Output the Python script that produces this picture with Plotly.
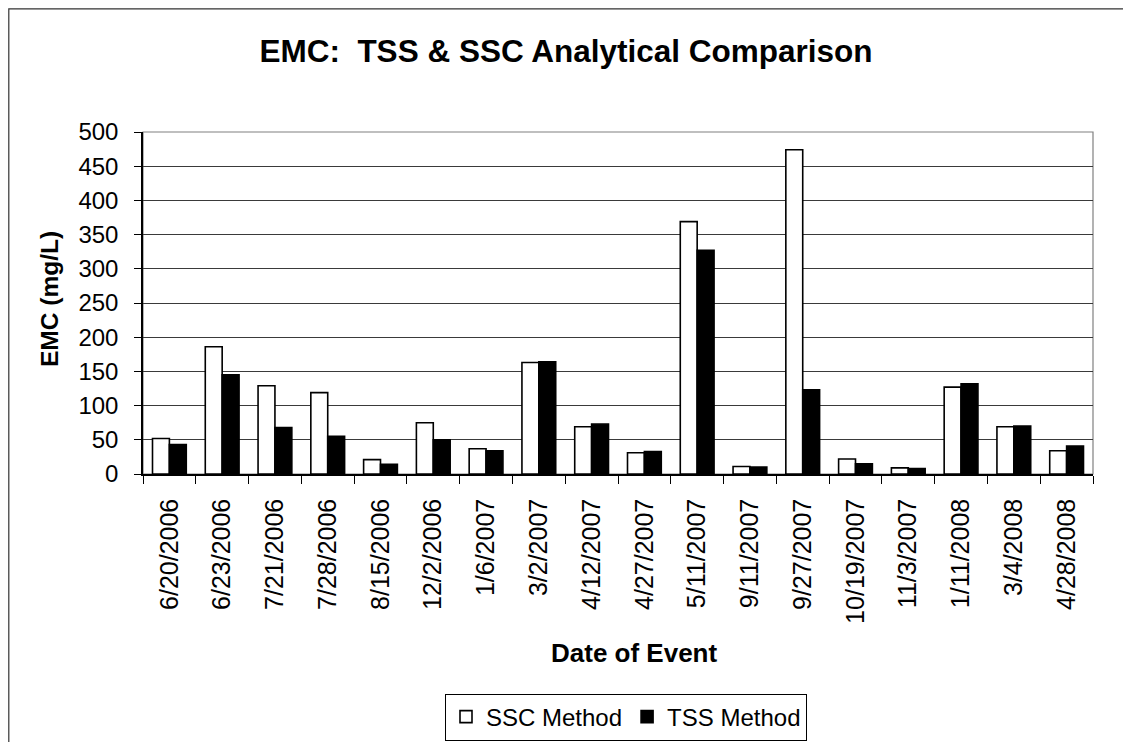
import plotly.graph_objects as go

dates = ["6/20/2006", "6/23/2006", "7/21/2006", "7/28/2006", "8/15/2006", "12/2/2006",
         "1/6/2007", "3/2/2007", "4/12/2007", "4/27/2007", "5/11/2007", "9/11/2007",
         "9/27/2007", "10/19/2007", "11/3/2007", "1/11/2008", "3/4/2008", "4/28/2008"]
ssc_values = [52, 186, 129, 119, 21, 75, 37, 163, 69, 31, 369, 11, 474, 22, 9, 127, 69, 34]
tss_values = [43, 145, 68, 55, 14, 50, 34, 164, 73, 33, 327, 10, 123, 15, 8, 132, 70, 41]
y_ticks = [0, 50, 100, 150, 200, 250, 300, 350, 400, 450, 500]

FONT = "Liberation Sans, Arial, sans-serif"
OFF = 8  # default page body margin
W, H = 1131, 742
# desired plot area in page pixels
PX0, PX1, PY0, PY1 = 143, 1093, 132, 474
L, T = PX0 - OFF, PY0 - OFF
R, B = W - (PX1 - OFF), H - (PY1 - OFF)
PW, PH = PX1 - PX0, PY1 - PY0

def px_x(p):
    return (p - PX0) / PW

def px_y(p):
    return (PY1 - p) / PH

fig = go.Figure()
fig.add_trace(go.Bar(x=dates, y=ssc_values, name="SSC Method",
                     marker=dict(color="white", line=dict(color="black", width=1.6))))
fig.add_trace(go.Bar(x=dates, y=tss_values, name="TSS Method",
                     marker=dict(color="black", line=dict(color="black", width=1.6))))

fig.update_layout(
    width=W, height=H,
    margin=dict(l=L, r=R, t=T, b=B, pad=0, autoexpand=False),
    paper_bgcolor="white", plot_bgcolor="white",
    barmode="group", bargap=0.36, bargroupgap=0,
    font=dict(family=FONT, color="black"),
    title=dict(text="EMC:\u00a0 TSS & SSC Analytical Comparison",
               x=(566 - OFF) / W, xref="container", xanchor="center",
               y=1 - (51 - OFF) / H, yref="container", yanchor="middle",
               font=dict(family=FONT, size=31.5, color="black", weight="bold")),
    showlegend=True,
    legend=dict(orientation="h", x=px_x(626), y=px_y(717), xref="paper", yref="paper",
                xanchor="center", yanchor="middle",
                bordercolor="black", borderwidth=1, bgcolor="white",
                font=dict(family=FONT, size=24, color="black"),
                itemwidth=30, traceorder="normal"),
)

fig.update_xaxes(
    type="category", tickson="boundaries", ticks="outside", ticklen=8, tickcolor="black",
    tickangle=-90, tickfont=dict(family=FONT, size=25, color="black"),
    ticklabelstandoff=13, automargin=False,
    showline=True, linecolor="black", linewidth=1.5, showgrid=False, zeroline=False,
)
fig.update_yaxes(
    range=[0, 500], tickvals=y_ticks, ticks="outside", ticklen=7, tickcolor="black",
    tickfont=dict(family=FONT, size=24, color="black"), ticklabelstandoff=11,
    automargin=False,
    showline=True, linecolor="black", linewidth=1.5,
    showgrid=True, gridcolor="#3a3a3a", gridwidth=1, zeroline=False,
)

# plot area border (top / right)
fig.add_shape(type="rect", xref="paper", yref="paper", x0=0, x1=1, y0=0, y1=1,
              line=dict(color="#808080", width=1.2), layer="below")
# outer chart border
fig.add_shape(type="rect", xref="paper", yref="paper",
              x0=px_x(8.8), x1=px_x(1160), y0=px_y(780), y1=px_y(8.8),
              line=dict(color="#333333", width=1.2))

fig.add_annotation(text="<b>EMC (mg/L)</b>", textangle=-90, xref="paper", yref="paper",
                   x=px_x(49), y=px_y(299), xanchor="center", yanchor="middle",
                   showarrow=False, font=dict(family=FONT, size=24.5, color="black"))
fig.add_annotation(text="<b>Date of Event</b>", xref="paper", yref="paper",
                   x=px_x(634), y=px_y(653), xanchor="center", yanchor="middle",
                   showarrow=False, font=dict(family=FONT, size=26, color="black"))

fig.write_html("out.html")
